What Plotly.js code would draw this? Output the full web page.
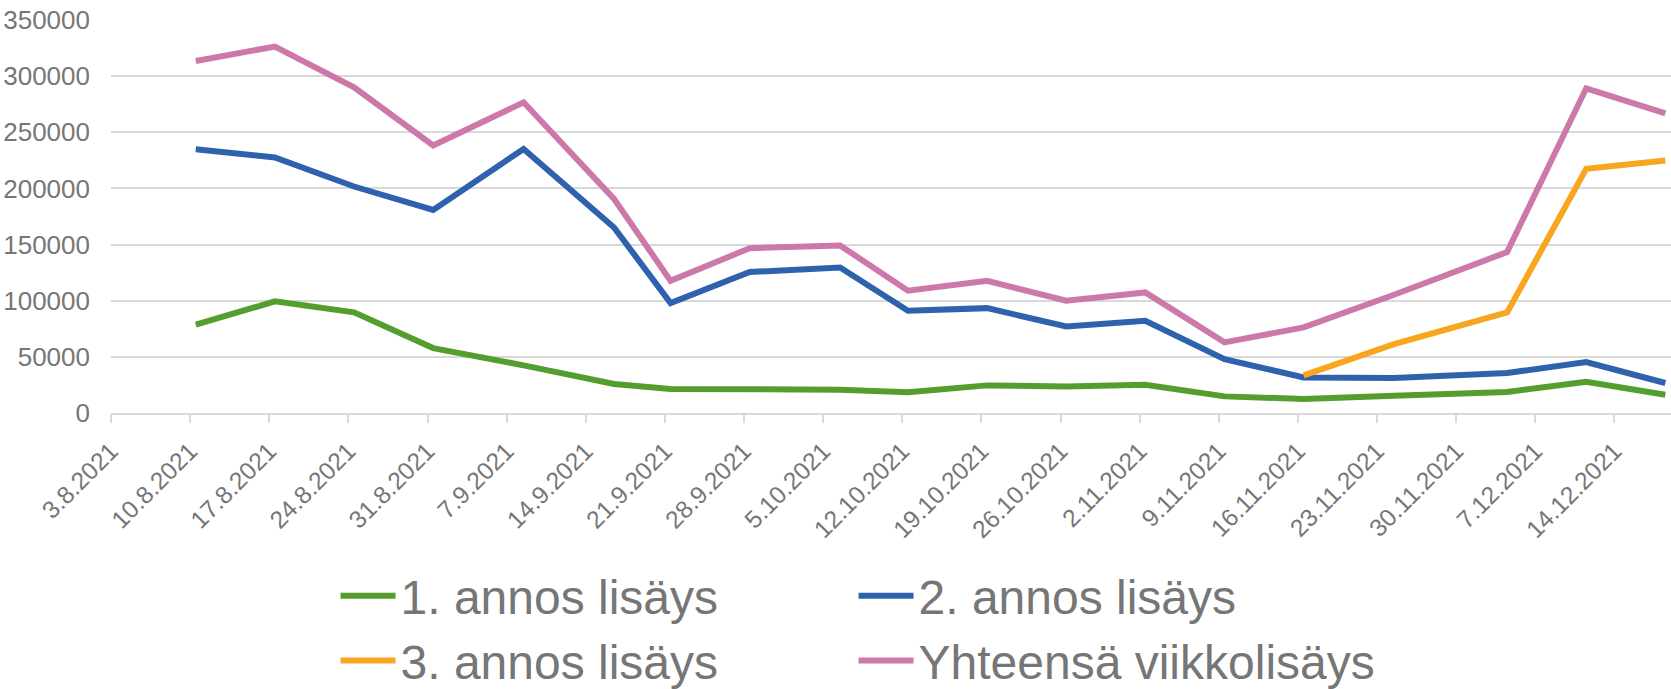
<!DOCTYPE html>
<html>
<head>
<meta charset="utf-8">
<script src="https://cdn.plot.ly/plotly-3.0.1.min.js"></script>
<style>
  html, body { margin: 0; padding: 0; background: #fff; }
  #plot { width: 1671px; height: 689px; }
</style>
</head>
<body>
<div id="plot"></div>
<script>
// weekly data (date of each weekly report)
var dates = ['2021-08-10', '2021-08-17', '2021-08-24', '2021-08-31', '2021-09-08',
  '2021-09-16', '2021-09-21', '2021-09-28', '2021-10-06', '2021-10-12',
  '2021-10-19', '2021-10-26', '2021-11-02', '2021-11-09', '2021-11-16',
  '2021-11-24', '2021-12-04', '2021-12-11', '2021-12-18'];

var dose1 = [78600, 99400, 89600, 57800, 42400, 25800, 21400, 21400, 20800, 18400,
  24600, 23700, 25200, 14800, 12500, 15400, 18700, 27900, 16300];
var dose2 = [234900, 227500, 201700, 180900, 235200, 165200, 97900, 125500, 129600, 91100,
  93400, 77100, 82200, 48000, 31700, 31100, 35600, 45400, 26700];
var dose3 = [null, null, null, null, null, null, null, null, null, null,
  null, null, null, null, 33500, 61400, 89600, 217400, 224800];
var total = [313500, 326300, 290100, 238200, 276700, 190700, 117700, 146800, 149200, 108900,
  117700, 100000, 107400, 62900, 76200, 105300, 143300, 289200, 266900];

var names = ['1. annos lisäys', '2. annos lisäys', '3. annos lisäys', 'Yhteensä viikkolisäys'];
var colors = ['#549E2F', '#2F62AD', '#F7A61E', '#CC79AA'];

// points sit in the middle of their day on the date axis
var xs = dates.map(function(d) { return d + ' 12:00'; });

var font = {family: 'Liberation Sans, Arial, sans-serif', color: '#767676'};
var gray = '#d9d9d9';

// one legend per entry so the 2x2 grid can be placed exactly
var legIds = ['legend', 'legend2', 'legend3', 'legend4'];
var legX = [0.2008, 0.5108, 0.2008, 0.5108];
var legY = [0.135, 0.135, 0.041, 0.041];

function line(y, i) {
  return {
    x: xs, y: y, name: names[i], type: 'scatter', mode: 'lines',
    line: {color: colors[i], width: 6},
    connectgaps: false, legend: legIds[i]
  };
}

var data = [line(dose1, 0), line(dose2, 1), line(dose3, 2), line(total, 3)];

var layout = {
  width: 1671, height: 689,
  margin: {l: 111, r: 0, t: 20, b: 276},
  paper_bgcolor: '#fff', plot_bgcolor: '#fff',
  font: {family: font.family, color: font.color, size: 26},
  showlegend: true,
  xaxis: {
    type: 'date',
    range: ['2021-08-03', '2021-12-19'],
    tick0: '2021-08-03', dtick: 7 * 24 * 3600 * 1000,
    tickformat: '%-d.%-m.%Y', tickangle: -45,
    showgrid: false, zeroline: false,
    showline: true, linecolor: gray, linewidth: 2,
    ticks: 'outside', ticklen: 8, tickwidth: 2, tickcolor: gray,
    ticklabelstandoff: 4,
    tickfont: {size: 24.5, color: font.color}
  },
  yaxis: {
    range: [0, 350000], dtick: 50000, tickformat: 'd',
    showgrid: true, gridcolor: gray, gridwidth: 2,
    zeroline: false, showline: false, ticks: '',
    ticklabelstandoff: 20,
    tickfont: {size: 26, color: font.color}
  }
};

legIds.forEach(function(id, i) {
  layout[id] = {
    orientation: 'h', xref: 'container', yref: 'container',
    xanchor: 'left', yanchor: 'middle', x: legX[i], y: legY[i],
    itemwidth: 55,
    font: {family: font.family, color: font.color, size: 48},
    bgcolor: 'rgba(0,0,0,0)', borderwidth: 0, itemclick: false
  };
});

Plotly.newPlot('plot', data, layout, {displayModeBar: false, staticPlot: true});
</script>
</body>
</html>
